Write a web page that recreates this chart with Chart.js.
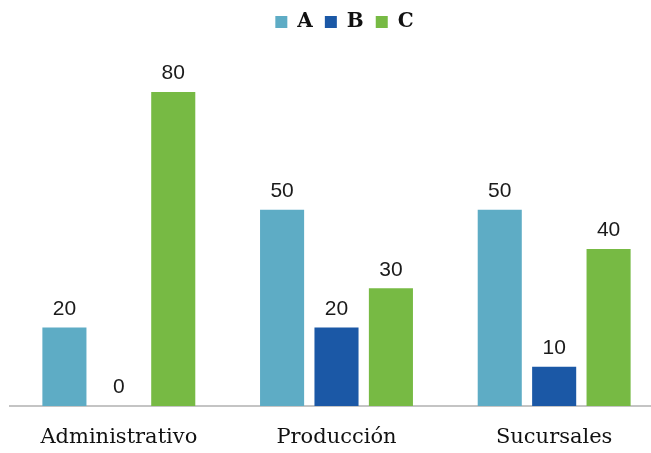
<!DOCTYPE html>
<html lang="es">
<head>
    <meta charset="UTF-8">
    <title>Areas A B C</title>
    <style>
        body {
            margin: 0;
            background: #fff;
            overflow: hidden;
        }
    </style>
</head>
<body>
    <canvas id="areaChart" width="663" height="453"></canvas>

    <script src="https://cdn.jsdelivr.net/npm/chart.js"></script>
    <script>
        const categories = ['Administrativo', 'Producción', 'Sucursales'];
        const seriesNames = ['A', 'B', 'C'];
        const valuesA = [20, 50, 50];
        const valuesB = [0, 20, 10];
        const valuesC = [80, 30, 40];
        const colors = ['#5eacc5', '#1b58a6', '#77ba44'];

        // draws the number above every bar
        const valueLabels = {
            id: 'valueLabels',
            afterDatasetsDraw(chart) {
                const ctx = chart.ctx;
                ctx.save();
                ctx.font = '21px "Liberation Sans", Arial, sans-serif';
                ctx.fillStyle = '#1a1a1a';
                ctx.textAlign = 'center';
                ctx.textBaseline = 'bottom';
                chart.data.datasets.forEach((ds, i) => {
                    chart.getDatasetMeta(i).data.forEach((bar, j) => {
                        ctx.fillText(ds.data[j], bar.x, bar.y - 8);
                    });
                });
                ctx.restore();
            }
        };

        // extra room between legend and bars, legend nudged a bit right
        const legendSpacer = {
            id: 'legendSpacer',
            beforeInit(chart) {
                const fit = chart.legend.fit;
                chart.legend.fit = function () {
                    fit.bind(chart.legend)();
                    this.height += 50;
                };
            },
            afterLayout(chart) {
                chart.legend.left += 8;
                chart.legend.right += 8;
            }
        };

        const ctx = document.getElementById('areaChart').getContext('2d');
        new Chart(ctx, {
            type: 'bar',
            data: {
                labels: categories,
                datasets: [
                    { label: seriesNames[0], data: valuesA, backgroundColor: colors[0] },
                    { label: seriesNames[1], data: valuesB, backgroundColor: colors[1] },
                    { label: seriesNames[2], data: valuesC, backgroundColor: colors[2] }
                ]
            },
            options: {
                responsive: false,
                animation: false,
                categoryPercentage: 0.75,
                barPercentage: 0.81,
                layout: {
                    padding: { left: 10, right: 0, top: 0, bottom: 0 }
                },
                plugins: {
                    legend: {
                        position: 'top',
                        labels: {
                            boxWidth: 12,
                            boxHeight: 12,
                            padding: 12,
                            color: '#111',
                            font: { family: '"DejaVu Serif", serif', size: 20, weight: 'bold' }
                        }
                    },
                    tooltip: { enabled: false }
                },
                scales: {
                    y: {
                        display: false,
                        min: 0,
                        max: 80
                    },
                    x: {
                        afterFit(scale) { scale.height = 47; },
                        grid: { display: false, drawTicks: false },
                        border: { color: '#c4c4c4', width: 2 },
                        ticks: {
                            color: '#111',
                            padding: 19,
                            font: { family: '"DejaVu Serif", serif', size: 21 }
                        }
                    }
                }
            },
            plugins: [valueLabels, legendSpacer]
        });
    </script>
</body>
</html>
